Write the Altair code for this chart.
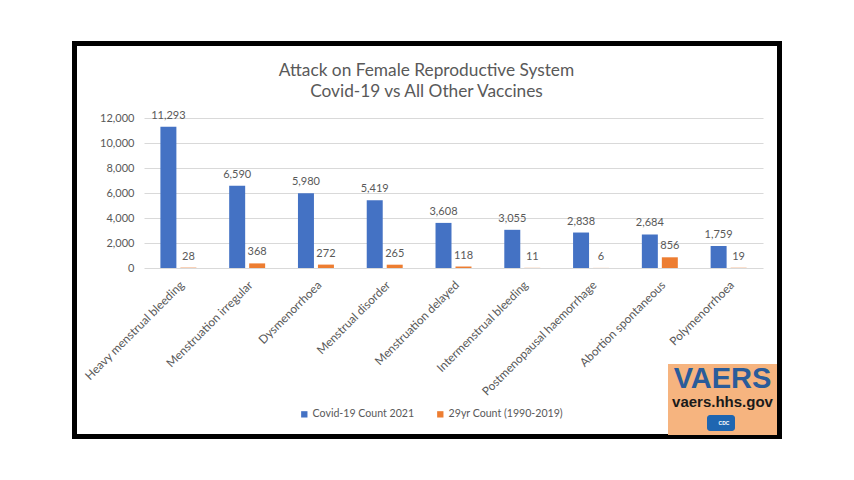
import altair as alt
import pandas as pd

categories = [
    "Heavy menstrual bleeding", "Menstruation irregular", "Dysmenorrhoea",
    "Menstrual disorder", "Menstruation delayed", "Intermenstrual bleeding",
    "Postmenopausal haemorrhage", "Abortion spontaneous", "Polymenorrhoea",
]
covid_2021 = [11293, 6590, 5980, 5419, 3608, 3055, 2838, 2684, 1759]
other_29yr = [28, 368, 272, 265, 118, 11, 6, 856, 19]
series_names = ["Covid-19 Count 2021", "29yr Count (1990-2019)"]
series_colors = ["#4472C4", "#ED7D31"]
title_lines = ["Attack on Female Reproductive System", "Covid-19 vs All Other Vaccines"]
y_ticks = [0, 2000, 4000, 6000, 8000, 10000, 12000]

rows = []
for c, a, b in zip(categories, covid_2021, other_29yr):
    rows.append({"cat": c, "series": series_names[0], "value": a})
    rows.append({"cat": c, "series": series_names[1], "value": b})
df = pd.DataFrame(rows)

W, H = 619, 150
GRAY = "#595959"
FONT = "Lato"

x_enc = alt.X("cat:N", sort=categories, title=None,
              scale=alt.Scale(paddingInner=0.477, paddingOuter=0.2385),
              axis=alt.Axis(labelAngle=-45, labelFontSize=11.8, labelColor=GRAY,
                            labelFont=FONT, domain=False, ticks=False,
                            labelPadding=11, labelLimit=300))
xo_enc = alt.XOffset("series:N", sort=series_names,
                     scale=alt.Scale(paddingInner=0.2, paddingOuter=0))
y_enc = alt.Y("value:Q", title=None,
              scale=alt.Scale(domain=[0, 12000], nice=False),
              axis=alt.Axis(values=y_ticks, format=",.0f", labelFontSize=11,
                            labelColor=GRAY, labelFont=FONT, domain=False,
                            ticks=False, labelPadding=10, gridColor="#D9D9D9",
                            labelOverlap=False))
color_enc = alt.Color("series:N", sort=series_names,
                      scale=alt.Scale(domain=series_names, range=series_colors),
                      legend=alt.Legend(orient="none", legendX=155, legendY=291,
                                        direction="horizontal", title=None,
                                        symbolType="square", symbolSize=40,
                                        symbolStrokeWidth=0,
                                        labelFontSize=10.6, labelColor=GRAY,
                                        labelFont=FONT, columnPadding=20,
                                        labelOffset=3, padding=0))

bars = alt.Chart(df).mark_bar().encode(
    x=x_enc, xOffset=xo_enc, y=y_enc, color=color_enc)

labels = alt.Chart(df).mark_text(
    baseline="alphabetic", dy=-8, fontSize=11, color=GRAY, font=FONT
).encode(x=x_enc, xOffset=xo_enc, y=y_enc,
         text=alt.Text("value:Q", format=","))

deco = pd.DataFrame({"k": [0]})

frame = alt.Chart(deco).mark_rect(fillOpacity=0, stroke="black", strokeWidth=5).encode(
    x=alt.value(-69.5), x2=alt.value(635.5), y=alt.value(-74.5), y2=alt.value(318.5))

title1 = alt.Chart(deco).mark_text(text=title_lines[0], fontSize=17.3, color=GRAY,
                                   font=FONT, baseline="alphabetic", align="center").encode(
    x=alt.value(282.5), y=alt.value(-42))
title2 = alt.Chart(deco).mark_text(text=title_lines[1], fontSize=17.3, color=GRAY,
                                   font=FONT, baseline="alphabetic", align="center").encode(
    x=alt.value(282.5), y=alt.value(-21))

logo_bg = alt.Chart(deco).mark_rect(fill="#F6B47F").encode(
    x=alt.value(524), x2=alt.value(633), y=alt.value(246), y2=alt.value(317))
logo_t1 = alt.Chart(deco).mark_text(text="VAERS", fontSize=29, fontWeight="bold",
                                    color="#2A5C9A", font="Liberation Sans",
                                    baseline="alphabetic", align="center").encode(
    x=alt.value(578.5), y=alt.value(270))
logo_t2 = alt.Chart(deco).mark_text(text="vaers.hhs.gov", fontSize=15, fontWeight="bold",
                                    color="#1a1a1a", font="Liberation Sans",
                                    baseline="alphabetic", align="center").encode(
    x=alt.value(578.5), y=alt.value(289))
logo_icon = alt.Chart(deco).mark_rect(fill="#1F66B1", cornerRadius=3).encode(
    x=alt.value(563), x2=alt.value(591), y=alt.value(297), y2=alt.value(313))
logo_icon_t = alt.Chart(deco).mark_text(text="CDC", fontSize=5, fontWeight="bold",
                                        color="white", font="Liberation Sans",
                                        baseline="middle", align="center").encode(
    x=alt.value(580), y=alt.value(305))

chart = alt.layer(frame, title1, title2, bars, labels, logo_bg, logo_t1, logo_t2,
                  logo_icon, logo_icon_t).properties(
    width=W, height=H,
    autosize=alt.AutoSizeParams(type="none"),
    padding={"left": 136, "top": 110, "right": 83, "bottom": 204},
    background="white",
).configure_view(stroke=None)

chart.save("out.html", embed_options={"renderer": "svg", "actions": False})
